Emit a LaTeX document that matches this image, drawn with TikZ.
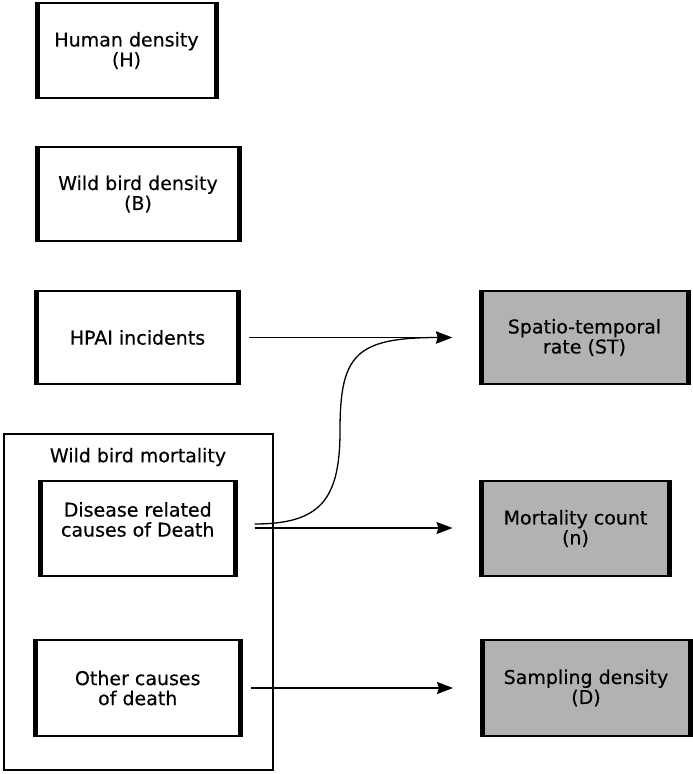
\documentclass[tikz,border=0pt]{standalone}
\usepackage{fontspec}
\setmainfont[FakeBold=0.4]{DejaVu Sans}
\usetikzlibrary{arrows.meta,calc}
\definecolor{boxgrey}{RGB}{178,178,178}
\begin{document}
\begin{tikzpicture}[x=1pt,y=-1pt,
  txt/.style={font=\fontsize{19}{20}\selectfont, align=center},
  box/.style={draw, line width=2.2pt, outer sep=0pt, inner sep=0pt, txt},
  resbox/.style={box, fill=boxgrey},
  arr/.style={line width=1.3pt, -{Stealth[length=16pt,width=12pt,inset=2pt]}}]
\useasboundingbox (0,0) rectangle (693,774);

% outer group box
\node[draw, line width=2pt, outer sep=0pt, minimum width=269, minimum height=336] (wbm) at (138.5,602) {};
\node[txt] (wbmt) at (138,457) {Wild bird mortality};

% left boxes
\node[box, minimum width=179, minimum height=95] (h) at (126.5,50.5) {Human density\\(H)};
\node[box, minimum width=202, minimum height=94] (b) at (138,194) {Wild bird density\\(B)};
\node[box, minimum width=202, minimum height=93] (hp) at (137.5,337.5) {HPAI incidents};
\node[box, minimum width=195.5, minimum height=95, label={[txt, yshift=9pt]center:Disease related\\causes of Death}] (dis) at (137.75,528.5) {};
\node[box, minimum width=204.5, minimum height=96] (oth) at (137.75,688) {Other causes\\of death};

% right boxes
\node[resbox, minimum width=207, minimum height=93] (st) at (584.5,337.5) {Spatio-temporal\\rate (ST)};
\node[resbox, minimum width=188, minimum height=95] (mc) at (575.5,528.5) {Mortality count\\(n)};
\node[resbox, minimum width=208, minimum height=96] (sd) at (586,688) {Sampling density\\(D)};

% thick vertical borders
\foreach \n in {h,b,hp,dis,oth,st,mc,sd}{
  \draw[line width=5pt] ($(\n.north west)+(0,-1.1)$) -- ($(\n.south west)+(0,1.1)$)
                        ($(\n.north east)+(0,-1.1)$) -- ($(\n.south east)+(0,1.1)$);
}

% connectors
\coordinate (cm) at (340,431);
\draw[arr, shorten <=10pt, shorten >=29pt] (hp.east) -- (st.west);
\draw[arr, shorten <=19pt, shorten >=29pt] ($(dis.east)+(0,-4.5)$) .. controls (320,524) and (340,500) .. (cm) .. controls (340,355) and (355,337.5) .. (st.west);
\draw[arr, shorten <=19pt, shorten >=29pt] ($(dis.east)+(0,-0.5)$) -- ($(mc.west)+(0,-0.5)$);
\draw[arr, shorten <=11pt, shorten >=29pt] (oth.east) -- (sd.west);
\end{tikzpicture}
\end{document}
